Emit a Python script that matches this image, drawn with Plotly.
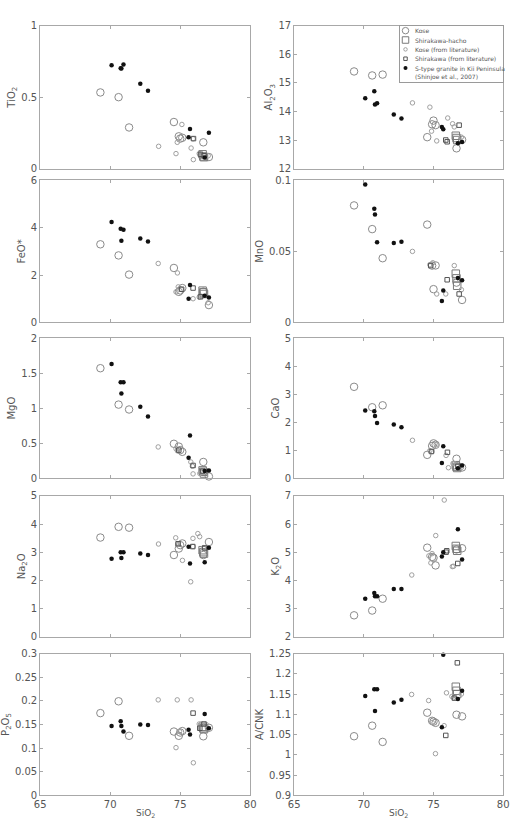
import plotly.graph_objects as go

W, H = 517, 830

# ---------------- data ----------------
OXIDES = ["TiO2", "Al2O3", "FeO*", "MnO", "MgO", "CaO", "Na2O", "K2O", "P2O5", "A/CNK"]

KOSE_SIO2 = [69.3, 70.6, 71.35, 74.55, 74.9, 75.0, 75.15, 76.65, 77.05]
KOSE = {
    "TiO2":  [0.533, 0.50, 0.288, 0.326, 0.226, 0.21, 0.216, 0.184, 0.081],
    "Al2O3": [15.40, 15.26, 15.29, 13.10, 13.55, 13.68, 13.52, 12.71, 13.01],
    "FeO*":  [3.30, 2.83, 2.02, 2.30, 1.29, 1.35, 1.45, 1.30, 0.73],
    "MnO":   [0.0824, 0.0657, 0.0452, 0.0689, 0.040, 0.0234, 0.0401, 0.028, 0.0158],
    "MgO":   [1.57, 1.05, 0.98, 0.49, 0.45, 0.40, 0.375, 0.23, 0.023],
    "CaO":   [3.26, 2.53, 2.60, 0.83, 1.15, 1.24, 1.19, 0.69, 0.38],
    "Na2O":  [3.52, 3.90, 3.87, 2.90, 3.13, 3.25, 3.31, 2.90, 3.36],
    "K2O":   [2.76, 2.93, 3.35, 5.16, 4.83, 4.80, 4.53, 5.10, 5.14],
    "P2O5":  [0.174, 0.199, 0.126, 0.135, 0.126, 0.133, 0.136, 0.125, 0.143],
    "A/CNK": [1.046, 1.072, 1.032, 1.104, 1.084, 1.082, 1.079, 1.099, 1.095],
}

HACHO_SIO2 = [76.6, 76.65, 76.7]
HACHO = {
    "TiO2":  [0.10, 0.085, 0.08],
    "Al2O3": [13.15, 13.07, 13.0],
    "FeO*":  [1.34, 1.27, 1.20],
    "MnO":   [0.0343, 0.031, 0.0258],
    "MgO":   [0.11, 0.09, 0.065],
    "CaO":   [0.46, 0.40, 0.36],
    "Na2O":  [3.07, 3.0, 2.95],
    "K2O":   [5.22, 5.12, 5.05],
    "P2O5":  [0.145, 0.142, 0.140],
    "A/CNK": [1.168, 1.158, 1.150],
}

STYPE_SIO2 = [70.1, 70.75, 70.8, 70.95, 72.15, 72.7, 75.6, 75.7, 76.75, 77.05]
STYPE = {
    "TiO2":  [0.723, 0.702, 0.70, 0.728, 0.593, 0.544, 0.219, 0.277, 0.077, 0.251],
    "Al2O3": [14.46, 14.71, 14.24, 14.29, 13.89, 13.75, 13.46, 13.38, 12.89, 12.93],
    "FeO*":  [4.24, 3.96, 3.45, 3.92, 3.55, 3.42, 1.0, 1.58, 1.12, 1.05],
    "MnO":   [0.0972, 0.080, 0.076, 0.0564, 0.0559, 0.0568, 0.015, 0.0225, 0.0313, 0.0297],
    "MgO":   [1.63, 1.37, 1.21, 1.37, 1.02, 0.88, 0.29, 0.61, 0.10, 0.11],
    "CaO":   [2.41, 2.39, 2.22, 1.97, 1.91, 1.82, 0.54, 1.14, 0.35, 0.45],
    "Na2O":  [2.77, 3.0, 2.79, 3.0, 2.95, 2.9, 3.19, 2.6, 2.64, 3.16],
    "K2O":   [3.35, 3.55, 3.44, 3.44, 3.69, 3.69, 4.85, 5.0, 5.81, 4.74],
    "P2O5":  [0.147, 0.157, 0.147, 0.135, 0.150, 0.149, 0.139, 0.129, 0.172, 0.142],
    "A/CNK": [1.145, 1.162, 1.108, 1.162, 1.129, 1.136, 1.068, 1.247, 1.138, 1.158],
}

# literature data: (SiO2 list, oxide list) per diagram
KOSE_LIT = {
    "TiO2":  ([73.46, 75.12, 74.79, 74.7, 75.78, 75.92, 75.94, 76.36, 76.55, 77.0],
              [0.156, 0.309, 0.184, 0.105, 0.144, 0.209, 0.063, 0.105, 0.10, 0.09]),
    "Al2O3": ([73.49, 74.74, 74.86, 75.23, 76.02, 76.37, 76.49, 77.0],
              [14.30, 14.15, 13.31, 12.97, 13.77, 13.57, 13.46, 13.1]),
    "FeO*":  ([73.43, 74.8, 74.7, 74.86, 75.92, 76.36, 76.5, 77.0],
              [2.49, 2.09, 1.29, 1.50, 1.0, 1.07, 1.1, 0.83]),
    "MnO":   ([73.49, 74.74, 74.95, 75.23, 76.49, 75.88, 77.0, 76.6],
              [0.050, 0.0406, 0.042, 0.020, 0.040, 0.020, 0.023, 0.030]),
    "MgO":   ([73.43, 74.8, 74.7, 75.76, 75.87, 75.92, 76.4, 76.55],
              [0.445, 0.39, 0.42, 0.23, 0.17, 0.06, 0.066, 0.08]),
    "CaO":   ([73.49, 74.74, 74.9, 75.2, 75.9, 76.07, 76.4, 76.5, 77.0],
              [1.35, 0.98, 0.95, 1.2, 0.81, 0.37, 0.52, 0.52, 0.38]),
    "Na2O":  ([73.45, 74.68, 74.82, 75.16, 75.75, 75.91, 75.91, 76.26, 76.39, 76.67],
              [3.29, 3.51, 3.29, 2.71, 1.95, 3.49, 3.2, 3.66, 3.55, 3.16]),
    "K2O":   ([73.44, 74.67, 74.81, 75.16, 75.77, 76.35, 76.44, 74.9],
              [4.19, 4.87, 4.62, 5.59, 6.85, 4.49, 4.5, 4.95]),
    "P2O5":  ([73.43, 74.79, 74.7, 75.78, 75.94, 76.36, 76.5, 76.85, 74.95],
              [0.202, 0.202, 0.101, 0.202, 0.069, 0.151, 0.151, 0.15, 0.135]),
    "A/CNK": ([73.43, 74.65, 74.9, 75.14, 75.76, 75.93, 76.32, 76.44, 77.0],
              [1.149, 1.134, 1.08, 1.003, 1.072, 1.153, 1.144, 1.141, 1.15]),
}

SHIRA_LIT = {
    "TiO2":  ([75.95, 76.45, 76.7], [0.21, 0.10, 0.09]),
    "Al2O3": ([75.98, 76.84, 75.88], [12.94, 13.52, 13.0]),
    "FeO*":  ([75.92, 75.1, 76.45], [1.45, 1.4, 1.08]),
    "MnO":   ([75.98, 76.84, 74.8], [0.030, 0.020, 0.040]),
    "MgO":   ([75.92, 76.6, 74.9], [0.18, 0.10, 0.40]),
    "CaO":   ([76.0, 76.75, 74.85], [0.92, 0.42, 0.95]),
    "Na2O":  ([74.85, 75.9, 76.75], [3.3, 3.2, 3.15]),
    "K2O":   ([75.95, 76.74, 75.9], [5.05, 4.6, 5.0]),
    "P2O5":  ([75.92, 76.7, 76.4], [0.174, 0.151, 0.142]),
    "A/CNK": ([75.88, 76.71, 76.5], [1.048, 1.227, 1.14]),
}

Y_TITLES = ["TiO<sub>2</sub>", "Al<sub>2</sub>O<sub>3</sub>", "FeO*", "MnO", "MgO", "CaO",
            "Na<sub>2</sub>O", "K<sub>2</sub>O", "P<sub>2</sub>O<sub>5</sub>", "A/CNK"]
Y_RANGES = [[0, 1], [12, 17], [0, 6], [0, 0.1], [0, 2], [0, 5], [0, 5], [2, 7], [0, 0.3], [0.9, 1.25]]
Y_TICKS = [
    ["0", "0.5", "1"],
    ["12", "13", "14", "15", "16", "17"],
    ["0", "2", "4", "6"],
    ["0", "0.05", "0.1"],
    ["0", "0.5", "1", "1.5", "2"],
    ["0", "1", "2", "3", "4", "5"],
    ["0", "1", "2", "3", "4", "5"],
    ["2", "3", "4", "5", "6", "7"],
    ["0", "0.05", "0.1", "0.15", "0.2", "0.25", "0.3"],
    ["0.9", "0.95", "1", "1.05", "1.1", "1.15", "1.2", "1.25"],
]
X_TICKS = ["65", "70", "75", "80"]
X_RANGE = [65, 80]
X_TITLE = "SiO<sub>2</sub>"
LEGEND_NAMES = ["Kose", "Shirakawa-hacho", "Kose (from literature)", "Shirakawa (from literature)",
                "S-type granite in Kii Peninsula<br>(Shinjoe et al., 2007)"]

# ---------------- layout ----------------
ROWS_PX = [(20, 165), (177, 321), (337, 479), (497, 640), (657, 801)]
COLS_PX = [(35, 250), (295, 509)]
LEG_BOX_PX = (403, 509, 20, 77)      # left, right, top, bottom
LEG_ROW_PX = 9.5                     # spacing of legend rows
LEG_FIRST_PX = 5.0                   # first row centre below top
LEG_KEY_PX = 6.0                     # key centre from left
LEG_TEXT_PX = 15.0                   # text start from left
FRAME = "#a8a8a8"
TXT = "#555555"
FONT = "DejaVu Sans"

STYLES = [
    dict(symbol="circle-open", size=7.5, color="#8a8a8a", line=dict(width=1, color="#8a8a8a")),
    dict(symbol="square-open", size=7.5, color="#7a7a7a", line=dict(width=1, color="#7a7a7a")),
    dict(symbol="circle-open", size=4.5, color="#a0a0a0", line=dict(width=1, color="#a0a0a0")),
    dict(symbol="square-open", size=4.5, color="#555555", line=dict(width=1, color="#555555")),
    dict(symbol="circle", size=4.5, color="#111111", line=dict(width=0)),
]
LEG_STYLES = [
    dict(symbol="circle-open", size=6.5, color="#8a8a8a", line=dict(width=1, color="#8a8a8a")),
    dict(symbol="square-open", size=6.5, color="#7a7a7a", line=dict(width=1, color="#7a7a7a")),
    dict(symbol="circle-open", size=3.5, color="#a0a0a0", line=dict(width=1, color="#a0a0a0")),
    dict(symbol="square-open", size=3.5, color="#555555", line=dict(width=1, color="#555555")),
    dict(symbol="circle", size=4, color="#111111", line=dict(width=0)),
]

fig = go.Figure()
layout = dict(width=W, height=H, margin=dict(l=0, r=0, t=0, b=0),
              paper_bgcolor="white", plot_bgcolor="white", showlegend=False,
              font=dict(family=FONT, size=10, color=TXT))
annotations = []

for i, ox in enumerate(OXIDES):
    r, c = divmod(i, 2)
    n = i + 1
    xs = "x" if n == 1 else f"x{n}"
    ys = "y" if n == 1 else f"y{n}"
    top, bot = ROWS_PX[r]
    left, right = COLS_PX[c]
    bottom_row = (r == 4)
    layout["xaxis" if n == 1 else f"xaxis{n}"] = dict(
        domain=[left / W, right / W], range=X_RANGE, anchor=ys,
        tickvals=[float(t) for t in X_TICKS], ticktext=X_TICKS,
        ticks="inside", ticklen=3, tickcolor=FRAME, showline=True, linecolor=FRAME,
        linewidth=1, mirror="ticks", showgrid=False, zeroline=False,
        showticklabels=bottom_row, tickfont=dict(size=10, color=TXT),
    )
    layout["yaxis" if n == 1 else f"yaxis{n}"] = dict(
        domain=[1 - bot / H, 1 - top / H], range=Y_RANGES[i], anchor=xs,
        tickvals=[float(t) for t in Y_TICKS[i]], ticktext=Y_TICKS[i],
        ticks="inside", ticklen=3, tickcolor=FRAME, showline=True, linecolor=FRAME,
        linewidth=1, mirror="ticks", showgrid=False, zeroline=False,
        tickfont=dict(size=10, color=TXT),
        title=dict(text=Y_TITLES[i], font=dict(size=10, color=TXT), standoff=3),
    )
    if bottom_row:
        annotations.append(dict(
            text=X_TITLE, xref=f"{xs} domain", x=0.5, yref="paper", y=1 - 819 / H,
            xanchor="center", yanchor="middle", showarrow=False,
            font=dict(size=9, color=TXT)))

    series = [
        (KOSE_SIO2, KOSE[ox]),
        (HACHO_SIO2, HACHO[ox]),
        KOSE_LIT[ox],
        SHIRA_LIT[ox],
        (STYPE_SIO2, STYPE[ox]),
    ]
    for k, (sx, sy) in enumerate(series):
        fig.add_trace(go.Scatter(
            x=sx, y=sy, mode="markers", xaxis=xs, yaxis=ys,
            marker=STYLES[k], name=LEGEND_NAMES[k], showlegend=False,
            cliponaxis=False, hoverinfo="skip",
        ))

# ---------------- legend (drawn on a small auxiliary axis) ----------------
ll, lr, lt, lb = LEG_BOX_PX
lw, lh = lr - ll, lb - lt
layout["xaxis11"] = dict(domain=[ll / W, lr / W], range=[0, lw], anchor="y11",
                         showline=True, mirror=True, linecolor="#9a9a9a", linewidth=1,
                         showgrid=False, zeroline=False, showticklabels=False, ticks="")
layout["yaxis11"] = dict(domain=[1 - lb / H, 1 - lt / H], range=[lh, 0], anchor="x11",
                         showline=True, mirror=True, linecolor="#9a9a9a", linewidth=1,
                         showgrid=False, zeroline=False, showticklabels=False, ticks="")
for k, name in enumerate(LEGEND_NAMES):
    yk = LEG_FIRST_PX + k * LEG_ROW_PX
    fig.add_trace(go.Scatter(
        x=[LEG_KEY_PX], y=[yk], mode="markers", xaxis="x11", yaxis="y11",
        marker=LEG_STYLES[k], showlegend=False, hoverinfo="skip", cliponaxis=False))
    multi = "<br>" in name
    annotations.append(dict(
        text=name, xref="x11", yref="y11", x=LEG_TEXT_PX,
        y=yk - 4.4 if multi else yk, xanchor="left",
        yanchor="top" if multi else "middle", align="left", showarrow=False,
        borderpad=0, font=dict(size=6, color=TXT, family=FONT)))

layout["annotations"] = annotations
fig.update_layout(**layout)
fig.write_html("out.html")
